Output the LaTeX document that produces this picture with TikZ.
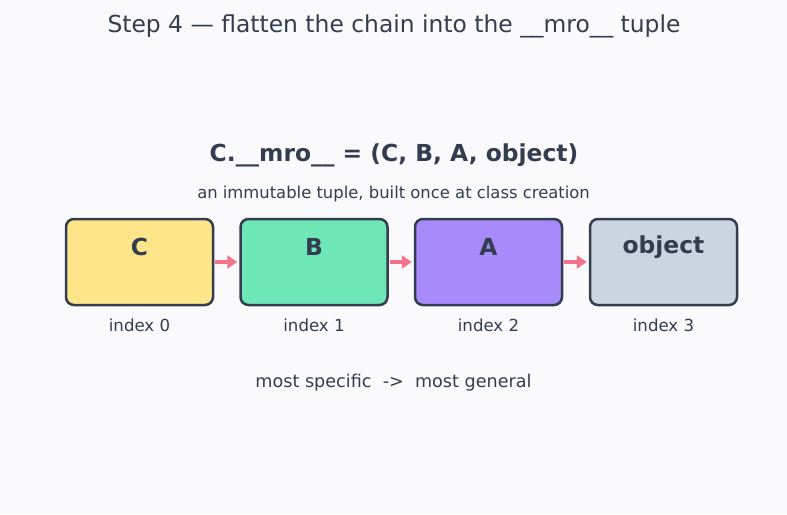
\documentclass[tikz,border=0pt]{standalone}
\usepackage{fontspec}
\setmainfont{DejaVu Sans}
\usetikzlibrary{arrows.meta}
\definecolor{bgcol}{RGB}{250,250,253}
\definecolor{ink}{RGB}{51,61,79}
\definecolor{linkcol}{RGB}{244,114,138}
\definecolor{ccol}{RGB}{253,230,138}
\definecolor{bcol}{RGB}{110,231,183}
\definecolor{acol}{RGB}{167,139,250}
\definecolor{ocol}{RGB}{203,213,225}
\begin{document}
\begin{tikzpicture}[x=1pt, y=-1pt]
    \tikzstyle{cls} = [draw=ink, line width=2.5pt, rounded corners=8pt,
                       minimum width=147pt, minimum height=86pt, inner sep=0pt]
    \tikzstyle{clsname} = [text=ink, font=\fontsize{23.4}{28}\selectfont\bfseries]
    \tikzstyle{idx} = [text=ink, font=\fontsize{16.6}{20}\selectfont]
    \tikzstyle{link} = [draw=linkcol, line width=3.5pt, -{Triangle[length=10pt, width=13pt]}]
    \fill[bgcol] (0,0) rectangle (787,514);
    \useasboundingbox (0,0) rectangle (787,514);
    \node[text=ink, font=\fontsize{23.4}{28}\selectfont] (title) at (394,26)
      {Step 4 — flatten the chain into the \_\_mro\_\_ tuple};
    \node[text=ink, font=\fontsize{23.4}{28}\selectfont\bfseries] (mro) at (394,155)
      {C.\_\_mro\_\_ = (C, B, A, object)};
    \node[idx, font=\fontsize{16.4}{20}\selectfont] (sub) at (393.5,194)
      {an immutable tuple, built once at class creation};
    % the four classes
    \node[cls, fill=ccol] (c) at (139.5,262) {};
    \node[cls, fill=bcol] (b) at (314,262) {};
    \node[cls, fill=acol] (a) at (488.5,262) {};
    \node[cls, fill=ocol] (o) at (663.5,262) {};
    \node[clsname] (cname) at ([yshift=-29pt]c.north) {C};
    \node[clsname] (bname) at ([yshift=-29pt]b.north) {B};
    \node[clsname] (aname) at ([yshift=-29pt]a.north) {A};
    \node[clsname] (oname) at ([yshift=-29pt]o.north) {object};
    \node[idx] (cidx) at ([yshift=-19.5pt]c.south) {index 0};
    \node[idx] (bidx) at ([yshift=-19.5pt]b.south) {index 1};
    \node[idx] (aidx) at ([yshift=-19.5pt]a.south) {index 2};
    \node[idx] (oidx) at ([yshift=-19.5pt]o.south) {index 3};
    \draw[link] ([xshift=1pt]c.east) -- ([xshift=-2pt]b.west);
    \draw[link] ([xshift=1pt]b.east) -- ([xshift=-2pt]a.west);
    \draw[link] ([xshift=1pt]a.east) -- ([xshift=-2pt]o.west);
    \node[text=ink, font=\fontsize{17.6}{21}\selectfont] (order) at (393.5,383)
      {most specific \ -> \ most general};
\end{tikzpicture}
\end{document}
